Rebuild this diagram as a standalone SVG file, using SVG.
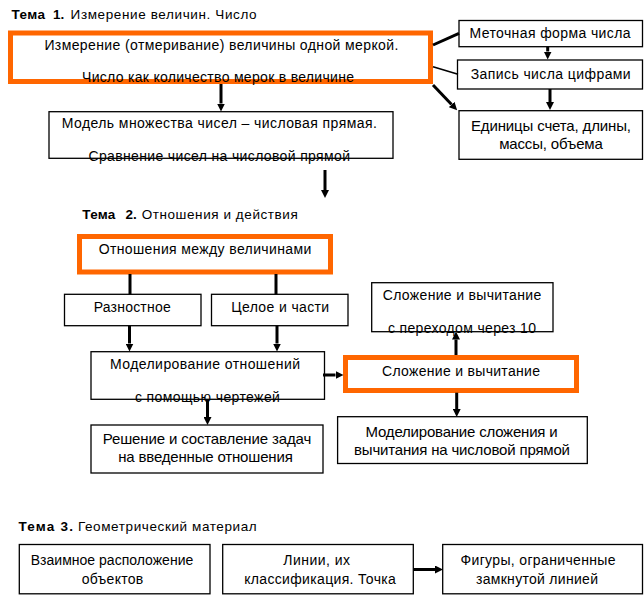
<svg xmlns="http://www.w3.org/2000/svg" width="644" height="595" viewBox="0 0 644 595">
<style>
text{font-family:"Liberation Sans",Arial,sans-serif;fill:#000;font-size:14px}
.c{text-anchor:middle}
.ttl{font-size:13.5px}
.b{font-weight:bold}
.f15{font-size:15px}
.box{fill:#fff;stroke:#000;stroke-width:1.3}
.obox{fill:#fff;stroke:#FF6600;stroke-width:5}
.cn line{stroke:#000;stroke-width:3}
.thin{stroke-width:1.6 !important}
</style>
<defs>
<marker id="ah" markerUnits="userSpaceOnUse" markerWidth="9" markerHeight="8" refX="0" refY="4" orient="auto" viewBox="0 0 9 8">
<path d="M0,0 L8,4 L0,8 z" fill="#000"/>
</marker>
</defs>
<rect width="644" height="595" fill="#fff"/>

<g id="titles">
<text class="ttl b" x="11.5" y="19" textLength="33.5">Тема</text>
<text class="ttl b" x="53" y="19">1.</text>
<text class="ttl" x="70.6" y="19" textLength="186">Измерение величин. Число</text>
<text class="ttl b" x="82.3" y="219" textLength="33">Тема</text>
<text class="ttl b" x="125.5" y="219">2.</text>
<text class="ttl" x="141.7" y="219" textLength="156">Отношения и действия</text>
<text class="ttl b" x="18.5" y="531" textLength="54.5">Тема 3.</text>
<text class="ttl" x="78" y="531" textLength="178.7">Геометрический материал</text>
</g>

<g id="n1">
<rect class="obox" x="10.5" y="33" width="420" height="48.5"/>
<text class="c" x="221.4" y="50" textLength="354">Измерение (отмеривание) величины одной меркой.</text>
<text class="c" x="218" y="82" textLength="272">Число как количество мерок в величине</text>
</g>
<g id="n2">
<rect class="box" x="459" y="20.5" width="183.5" height="26.2"/>
<text class="c" x="550" y="37.5" textLength="161">Меточная форма числа</text>
</g>
<g id="n3">
<rect class="box" x="457.5" y="60" width="185" height="29"/>
<text class="c" x="550.7" y="79" textLength="160">Запись числа цифрами</text>
</g>
<g id="n4">
<rect class="box" x="459" y="110.7" width="183.5" height="48.6"/>
<text class="c f15" x="551" y="131" textLength="160">Единицы счета, длины,</text>
<text class="c f15" x="551" y="148.5" textLength="103.7">массы, объема</text>
</g>
<g id="n5">
<rect class="box" x="49" y="111.7" width="344" height="46.6"/>
<text class="c" x="219.3" y="128.3" textLength="315">Модель множества чисел – числовая прямая.</text>
<text class="c" x="219.2" y="161" textLength="261.6">Сравнение чисел на числовой прямой</text>
</g>

<g id="n6">
<rect class="obox" x="79.5" y="236.5" width="251" height="35.5"/>
<text class="c" x="205" y="253.5" textLength="212.7">Отношения между величинами</text>
</g>
<g id="n7">
<rect class="box" x="64.5" y="294.3" width="136.5" height="31.4"/>
<text class="c" x="132.2" y="312" textLength="77">Разностное</text>
</g>
<g id="n8">
<rect class="box" x="211.5" y="294.3" width="136.5" height="31.4"/>
<text class="c" x="280.2" y="312" textLength="98">Целое и части</text>
</g>
<g id="n9">
<rect class="box" x="91" y="351.7" width="233.5" height="47.6"/>
<text class="c" x="205" y="368.5" textLength="190">Моделирование отношений</text>
<text class="c" x="207.4" y="402" textLength="145">с помощью чертежей</text>
</g>
<g id="n10">
<rect class="box" x="91" y="425" width="232" height="48"/>
<text class="c f15" x="207" y="443.5" textLength="208.6">Решение и составление задач</text>
<text class="c f15" x="205.5" y="461.7" textLength="174.5">на введенные отношения</text>
</g>
<g id="n11">
<rect class="box" x="371.7" y="282.7" width="181.3" height="49"/>
<text class="c" x="462" y="300" textLength="158.5">Сложение и вычитание</text>
<text class="c" x="462" y="332.5" textLength="148">с переходом через 10</text>
</g>
<g id="n12">
<rect class="obox" x="345.5" y="357.5" width="231" height="33"/>
<text class="c" x="461" y="375.5" textLength="158">Сложение и вычитание</text>
</g>
<g id="n13">
<rect class="box" x="337.6" y="416.7" width="249.7" height="46.8"/>
<text class="c f15" x="461.6" y="437" textLength="192">Моделирование сложения и</text>
<text class="c f15" x="462" y="455" textLength="216">вычитания на числовой прямой</text>
</g>

<g id="n14">
<rect class="box" x="19.3" y="544.5" width="190.7" height="49.3"/>
<text class="c" x="112" y="565" textLength="162.6">Взаимное расположение</text>
<text class="c" x="112.5" y="583.5" textLength="61.6">объектов</text>
</g>
<g id="n15">
<rect class="box" x="222.7" y="544.5" width="190.6" height="49.3"/>
<text class="c" x="316.7" y="565" textLength="66.7">Линии, их</text>
<text class="c" x="320" y="583.5" textLength="151.7">классификация. Точка</text>
</g>
<g id="n16">
<rect class="box" x="442.7" y="544.5" width="199.8" height="49.3"/>
<text class="c" x="538" y="565" textLength="155">Фигуры, ограниченные</text>
<text class="c" x="537" y="583.5" textLength="122">замкнутой линией</text>
</g>

<g id="connectors" class="cn">
<line x1="433" y1="45" x2="459" y2="33.3"/>
<line class="thin" x1="433" y1="66.7" x2="458" y2="74.3"/>
<line x1="433" y1="85" x2="451.6" y2="104.5" marker-end="url(#ah)"/>
<line x1="547.7" y1="46.7" x2="547.7" y2="51.5" marker-end="url(#ah)"/>
<line x1="550" y1="89" x2="550" y2="102" marker-end="url(#ah)"/>
<line x1="221" y1="84" x2="221" y2="103.5" marker-end="url(#ah)"/>
<line x1="325" y1="170" x2="325" y2="190" marker-end="url(#ah)"/>
<line x1="130" y1="274" x2="130" y2="294.3"/>
<line x1="276" y1="274" x2="276" y2="294.3"/>
<line x1="129.5" y1="325.7" x2="129.5" y2="343.5" marker-end="url(#ah)"/>
<line x1="277" y1="325.7" x2="277" y2="343.5" marker-end="url(#ah)"/>
<line x1="207.5" y1="399.3" x2="207.5" y2="417" marker-end="url(#ah)"/>
<line x1="323" y1="375" x2="335.5" y2="375" marker-end="url(#ah)"/>
<line x1="456" y1="355" x2="456" y2="339.5" marker-end="url(#ah)"/>
<line x1="456.7" y1="392.7" x2="456.7" y2="409" marker-end="url(#ah)"/>
<line x1="413.3" y1="569.5" x2="435" y2="569.5" marker-end="url(#ah)"/>
</g>
</svg>
